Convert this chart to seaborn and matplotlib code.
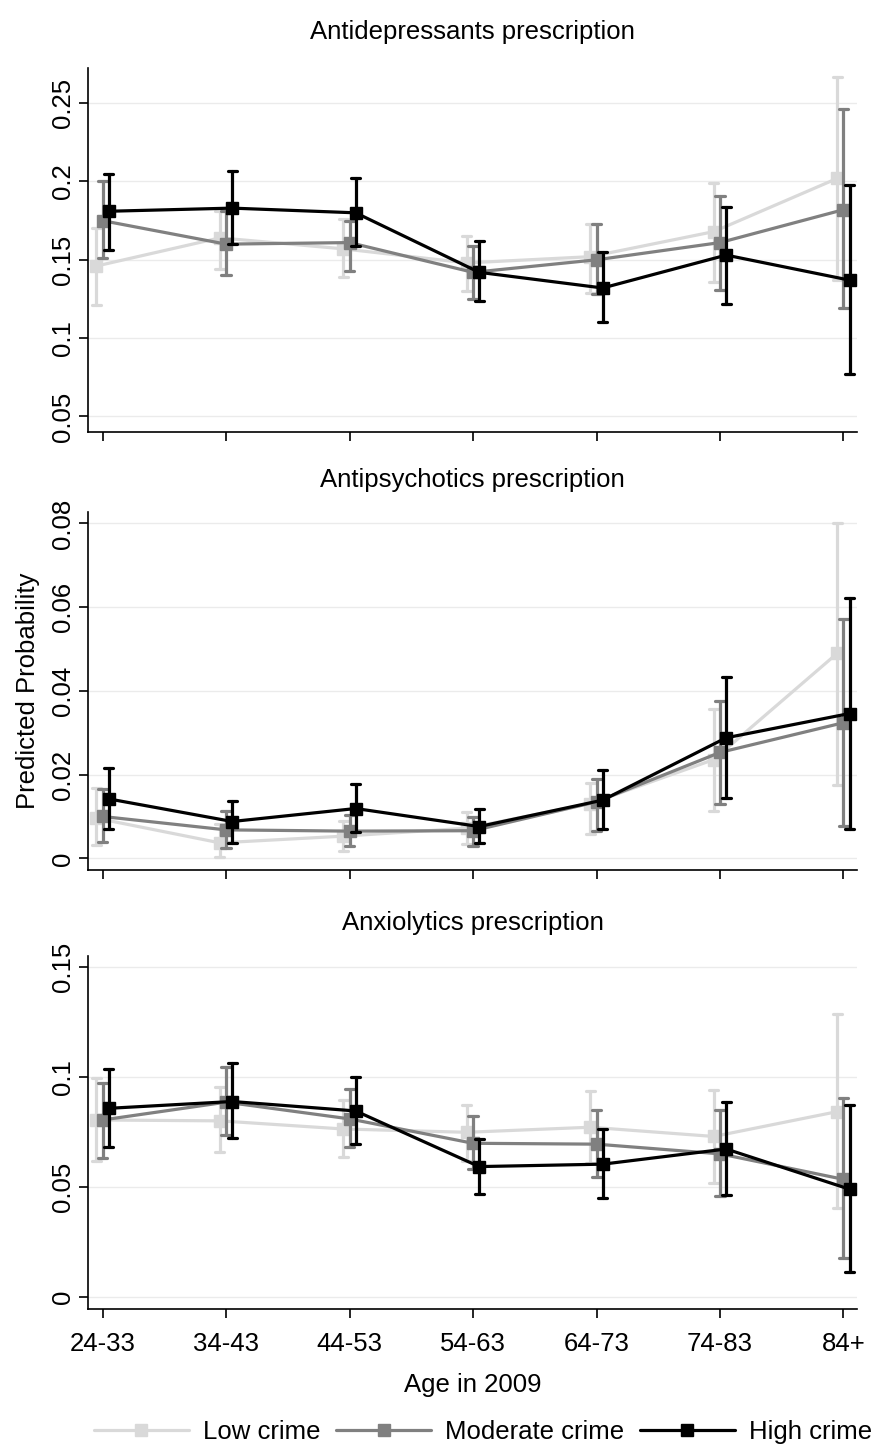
import numpy as np
import pandas as pd
import matplotlib
matplotlib.use("Agg")
import matplotlib.pyplot as plt
from matplotlib.lines import Line2D
from matplotlib.ticker import FuncFormatter
import seaborn as sns

# ---- data -------------------------------------------------------------
age_groups = ["24-33", "34-43", "44-53", "54-63", "64-73", "74-83", "84+"]
crime_levels = ["Low crime", "Moderate crime", "High crime"]

# Antidepressants: predicted probability with 95% CI
antidep_low_est = [0.146, 0.164, 0.157, 0.148, 0.152, 0.168, 0.202]
antidep_low_lo = [0.121, 0.144, 0.139, 0.130, 0.129, 0.136, 0.137]
antidep_low_hi = [0.170, 0.181, 0.176, 0.165, 0.173, 0.199, 0.267]
antidep_mod_est = [0.175, 0.160, 0.161, 0.142, 0.150, 0.161, 0.182]
antidep_mod_lo = [0.151, 0.140, 0.143, 0.125, 0.128, 0.131, 0.119]
antidep_mod_hi = [0.200, 0.181, 0.175, 0.159, 0.173, 0.191, 0.246]
antidep_high_est = [0.181, 0.183, 0.180, 0.142, 0.132, 0.153, 0.137]
antidep_high_lo = [0.156, 0.160, 0.159, 0.124, 0.110, 0.122, 0.077]
antidep_high_hi = [0.205, 0.207, 0.202, 0.162, 0.155, 0.184, 0.198]

# Antipsychotics
antipsy_low_est = [0.0096, 0.0037, 0.0053, 0.0072, 0.0131, 0.0236, 0.0490]
antipsy_low_lo = [0.0032, 0.0004, 0.0018, 0.0034, 0.0058, 0.0114, 0.0175]
antipsy_low_hi = [0.0169, 0.0081, 0.0089, 0.0111, 0.0179, 0.0357, 0.0800]
antipsy_mod_est = [0.0100, 0.0068, 0.0065, 0.0066, 0.0135, 0.0253, 0.0324]
antipsy_mod_lo = [0.0038, 0.0024, 0.0029, 0.0029, 0.0066, 0.0129, 0.0077]
antipsy_mod_hi = [0.0165, 0.0114, 0.0103, 0.0098, 0.0189, 0.0376, 0.0571]
antipsy_high_est = [0.0142, 0.0088, 0.0119, 0.0076, 0.0139, 0.0288, 0.0346]
antipsy_high_lo = [0.0069, 0.0037, 0.0064, 0.0037, 0.0069, 0.0143, 0.0069]
antipsy_high_hi = [0.0217, 0.0138, 0.0177, 0.0117, 0.0211, 0.0433, 0.0623]

# Anxiolytics
anxio_low_est = [0.0805, 0.0801, 0.0764, 0.0749, 0.0772, 0.0730, 0.0843]
anxio_low_lo = [0.0620, 0.0658, 0.0635, 0.0620, 0.0608, 0.0517, 0.0403]
anxio_low_hi = [0.0995, 0.0954, 0.0896, 0.0875, 0.0937, 0.0943, 0.1288]
anxio_mod_est = [0.0805, 0.0886, 0.0810, 0.0699, 0.0695, 0.0651, 0.0535]
anxio_mod_lo = [0.0634, 0.0737, 0.0681, 0.0581, 0.0544, 0.0460, 0.0176]
anxio_mod_hi = [0.0975, 0.1046, 0.0946, 0.0822, 0.0852, 0.0852, 0.0905]
anxio_high_est = [0.0858, 0.0889, 0.0846, 0.0593, 0.0604, 0.0673, 0.0490]
anxio_high_lo = [0.0684, 0.0722, 0.0698, 0.0469, 0.0450, 0.0464, 0.0115]
anxio_high_hi = [0.1036, 0.1063, 0.1002, 0.0720, 0.0764, 0.0889, 0.0872]

panel_titles = ["Antidepressants prescription",
                "Antipsychotics prescription",
                "Anxiolytics prescription"]
panel_series = [
    [(antidep_low_est, antidep_low_lo, antidep_low_hi),
     (antidep_mod_est, antidep_mod_lo, antidep_mod_hi),
     (antidep_high_est, antidep_high_lo, antidep_high_hi)],
    [(antipsy_low_est, antipsy_low_lo, antipsy_low_hi),
     (antipsy_mod_est, antipsy_mod_lo, antipsy_mod_hi),
     (antipsy_high_est, antipsy_high_lo, antipsy_high_hi)],
    [(anxio_low_est, anxio_low_lo, anxio_low_hi),
     (anxio_mod_est, anxio_mod_lo, anxio_mod_hi),
     (anxio_high_est, anxio_high_lo, anxio_high_hi)],
]
panel_yticks = [[0.05, 0.1, 0.15, 0.2, 0.25],
                [0, 0.02, 0.04, 0.06, 0.08],
                [0, 0.05, 0.1, 0.15]]
panel_ylims = [(0.040, 0.2725), (-0.0028, 0.0828), (-0.0055, 0.1551)]

palette = {"Low crime": "#D9D9D9", "Moderate crime": "#808080", "High crime": "#000000"}

# ---- style ------------------------------------------------------------
sns.set_theme(style="white")
plt.rcParams["font.family"] = ["Liberation Sans", "DejaVu Sans"]
plt.rcParams["text.color"] = "black"
FS = 18.5
LW = 2.3
MS = 8.8


def long_frame(series):
    """Stack estimate and CI bounds so that median = estimate, min/max = CI."""
    rows = []
    for level, (est, lo, hi) in zip(crime_levels, series):
        for age, e, l, h in zip(age_groups, est, lo, hi):
            for v in (l, e, h):
                rows.append({"age": age, "crime": level, "prob": v})
    return pd.DataFrame(rows)


fig = plt.figure(figsize=(8.71, 14.46), dpi=100)
ax_left, ax_width = 0.1014, 0.8829
boxes = [(0.7012, 0.953), (0.3983, 0.6461), (0.0947, 0.3389)]
axes = []
for (b, t) in boxes:
    axes.append(fig.add_axes([ax_left, b, ax_width, t - b]))

title_pads = [21, 18, 19]

for i, ax in enumerate(axes):
    df = long_frame(panel_series[i])
    sns.pointplot(
        data=df, x="age", y="prob", hue="crime",
        order=age_groups, hue_order=crime_levels, palette=palette,
        estimator=np.median, errorbar=lambda v: (v.min(), v.max()),
        dodge=0.1, markers="s", linestyles="-", capsize=0.075,
        markersize=MS, linewidth=LW, markeredgewidth=1.0,
        err_kws={"linewidth": LW},
        legend=False, ax=ax,
    )
    ax.set_xlim(-0.115, 6.112)
    ax.set_ylim(*panel_ylims[i])
    ax.set_yticks(panel_yticks[i])
    ax.yaxis.set_major_formatter(FuncFormatter(lambda v, p: "%g" % v))
    ax.grid(axis="y", color="#EBEBEB", linewidth=1.0)
    ax.grid(axis="x", visible=False)
    ax.set_axisbelow(True)
    for side in ("top", "right"):
        ax.spines[side].set_visible(False)
    for side in ("left", "bottom"):
        ax.spines[side].set_color("black")
        ax.spines[side].set_linewidth(1.2)
    ax.tick_params(axis="both", which="major", direction="out", length=6.5,
                   width=1.2, color="black", labelsize=FS, labelcolor="black",
                   left=True, bottom=True)
    ax.tick_params(axis="y", pad=3)
    for lab in ax.get_yticklabels():
        lab.set_rotation(90)
        lab.set_va("center")
    ax.set_title(panel_titles[i], fontsize=FS, pad=title_pads[i], color="black")
    ax.set_xlabel("")
    ax.set_ylabel("")
    if i < 2:
        ax.tick_params(axis="x", labelbottom=False)
    else:
        ax.tick_params(axis="x", pad=10)
        ax.set_xlabel("Age in 2009", fontsize=FS, labelpad=12, color="black")

axes[1].set_ylabel("Predicted Probability", fontsize=FS, labelpad=8, color="black")

handles = [
    Line2D([], [], color=palette[lvl], linewidth=LW, marker="s",
           markersize=MS, markerfacecolor=palette[lvl], markeredgecolor=palette[lvl])
    for lvl in crime_levels
]
fig.legend(handles, crime_levels, loc="center", bbox_to_anchor=(0.5545, 0.0097),
           ncol=3, frameon=False, fontsize=FS, handlelength=3.7,
           handletextpad=0.55, columnspacing=0.6, borderpad=0.0,
           labelcolor="black")

fig.savefig("out.png", dpi=100)
